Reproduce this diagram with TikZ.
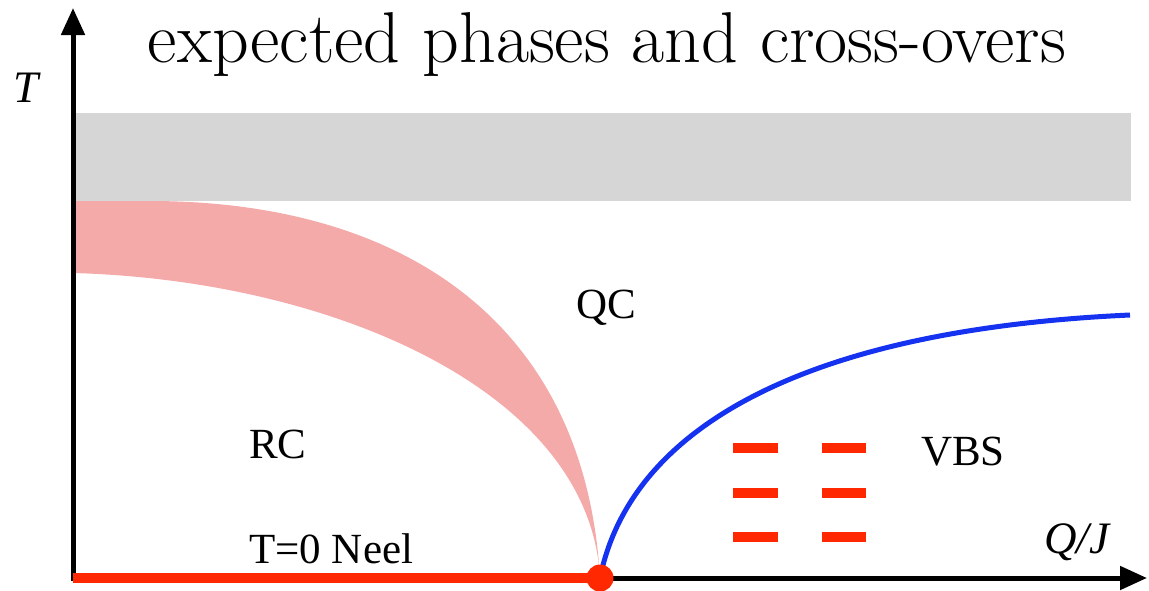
\documentclass[tikz,border=0pt]{standalone}
\usepackage{fontspec}
\setmainfont{Liberation Serif}
\newfontfamily\lmr{Latin Modern Roman}
\usetikzlibrary{arrows.meta}
\definecolor{bandgray}{RGB}{214,214,214}
\definecolor{pinkband}{RGB}{245,170,170}
\definecolor{neelred}{RGB}{255,40,0}
\definecolor{vbsblue}{RGB}{20,50,240}
\tikzset{
  lbl/.style={anchor=base west, inner sep=0pt, font=\rmfamily\fontsize{43}{46}\selectfont},
  axlbl/.style={anchor=base west, inner sep=0pt, font=\rmfamily\itshape\fontsize{45}{48}\selectfont},
  axis/.style={line width=5pt, draw=black, -{Triangle[length=27pt,width=23pt]}},
  dimer/.style={line width=10pt, draw=neelred},
}
\begin{document}
\begin{tikzpicture}[x=1pt,y=-1pt]
\useasboundingbox (0,0) rectangle (1149,590);
% pink crossover band
\fill[pinkband] (73,201) -- (150,201) .. controls (400,201) and (585,320) .. (600,578)
  .. controls (590,390) and (330,280) .. (73,273) -- cycle;
% gray band
\fill[bandgray] (73,113) rectangle (1131,201);
% axes
\coordinate (O) at (73,578);
\coordinate (Ytip) at (73,8);
\coordinate (Xtip) at (1147,578);
\coordinate (QCP) at (600,578);
\coordinate (Bend) at (1130,315);
\draw[axis] (73,581) -- (Ytip);
\draw[axis] (O) -- (Xtip);
% blue VBS boundary
\draw[vbsblue, line width=5pt] (QCP) .. controls (630,430) and (800,330) .. (Bend);
% Neel line
\draw[neelred, line width=10pt] (O) -- (QCP);
\fill[neelred] (QCP) circle (13.5);
% dimers
\foreach \yy [count=\i] in {448,493,537} {
  \coordinate (da\i) at (733,\yy); \coordinate (db\i) at (778,\yy);
  \coordinate (dc\i) at (822,\yy); \coordinate (dd\i) at (866,\yy);
  \draw[dimer] (da\i) -- (db\i);
  \draw[dimer] (dc\i) -- (dd\i);
}
% labels
\node[anchor=base, inner sep=0pt, font=\lmr\fontsize{72}{76}\selectfont] (title) at (607,62) {expected phases and cross-overs};
\node[axlbl] (Tlab) at (13,102) {T};
\node[axlbl] (QJlab) at (1044,553) {Q/J};
\node[lbl] (QC) at (576,318) {QC};
\node[lbl] (RC) at (249,458) {RC};
\node[lbl] (VBS) at (921,465) {VBS};
\node[lbl] (Neel) at (249,563) {T=0 Neel};
\end{tikzpicture}
\end{document}
